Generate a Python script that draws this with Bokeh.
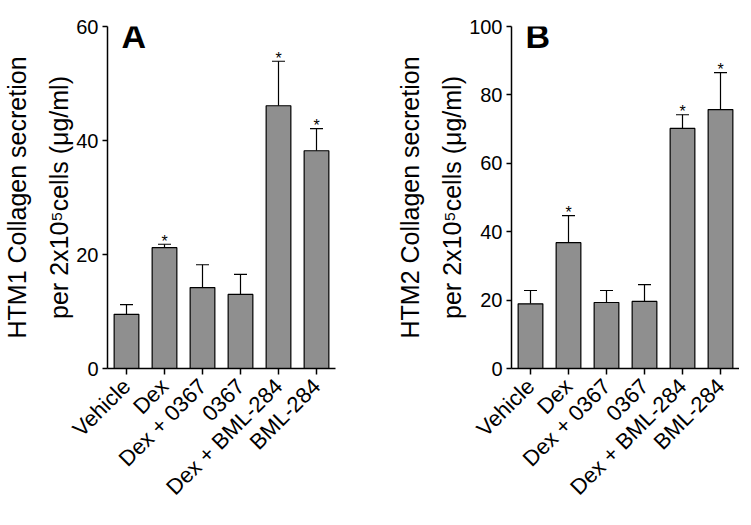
from math import pi
from bokeh.plotting import figure
from bokeh.models import ColumnDataSource, Whisker, TeeHead, Label, FactorRange, FixedTicker
from bokeh.layouts import row
from bokeh.embed import file_html
from bokeh.resources import INLINE
from bokeh.core.properties import value

cats = ["Vehicle", "Dex", "Dex + 0367", "0367", "Dex + BML-284", "BML-284"]
htm1_mean = [9.5, 21.2, 14.2, 13.0, 46.1, 38.2]
htm1_err = [1.7, 0.6, 4.0, 3.5, 7.8, 3.9]
htm1_sig = ["", "*", "", "", "*", "*"]
htm2_mean = [18.9, 36.8, 19.3, 19.6, 70.2, 75.7]
htm2_err = [3.9, 7.9, 3.5, 4.9, 4.0, 10.8]
htm2_sig = ["", "*", "", "", "*", "*"]
yticks1 = [0, 20, 40, 60]
yticks2 = [0, 20, 40, 60, 80, 100]

FONT = "Liberation Sans"


def panel(means, errs, sigs, ymax, yticks, letter, ylabel, border_left, border_right):
    src = ColumnDataSource(dict(
        x=cats, top=means,
        upper=[m + e for m, e in zip(means, errs)],
        sig=sigs,
    ))
    p = figure(x_range=FactorRange(*cats), y_range=(0, ymax),
               frame_width=228, frame_height=342,
               min_border_left=border_left, min_border_right=border_right,
               min_border_top=26, min_border_bottom=141,
               output_backend="svg", toolbar_location=None)
    p.outline_line_color = None
    p.xgrid.grid_line_color = None
    p.ygrid.grid_line_color = None
    p.background_fill_color = "white"

    p.vbar(x="x", top="top", width=0.65, bottom=0, source=src,
           fill_color="#8f8f8f", line_color="black", line_width=1.2)
    w = Whisker(base="x", lower="top", upper="upper", source=src,
                line_color="black", line_width=1.2,
                lower_head=None,
                upper_head=TeeHead(size=13, line_color="black", line_width=1.2))
    p.add_layout(w)
    p.text(x="x", y="upper", text="sig", source=src,
           text_font=value(FONT), text_font_size="16px",
           text_align="center", text_baseline="alphabetic", y_offset=-3)

    for ax in (p.xaxis[0], p.yaxis[0]):
        ax.axis_line_width = 1.5
        ax.major_tick_line_width = 1.5
        ax.major_tick_in = 0
        ax.minor_tick_line_color = None
        ax.major_label_text_font = FONT
        ax.major_label_text_color = "black"
    p.yaxis.major_label_text_font_size = "20px"
    p.xaxis.major_label_text_font_size = "22px"
    p.yaxis.ticker = FixedTicker(ticks=yticks)
    p.yaxis.major_tick_out = 5
    p.yaxis.major_label_standoff = 4
    p.xaxis.major_tick_out = 6
    p.xaxis.major_label_orientation = pi / 4
    p.xaxis.major_label_standoff = 8

    p.yaxis.axis_label = ylabel
    p.yaxis.axis_label_text_font = FONT
    p.yaxis.axis_label_text_font_size = "25px"
    p.yaxis.axis_label_text_font_style = "normal"
    p.yaxis.axis_label_text_color = "black"
    p.yaxis.axis_label_text_line_height = 1.5
    p.yaxis.axis_label_standoff = 0

    p.add_layout(Label(x=14, y=333, x_units="screen", y_units="screen",
                       text=letter, text_font=FONT, text_font_size="34px",
                       text_color="black",
                       text_font_style="bold", text_baseline="alphabetic"))
    return p


pA = panel(htm1_mean, htm1_err, htm1_sig, 60, yticks1, "A",
           "HTM1 Collagen secretion\nper 2x10\u2075cells (\u03bcg/ml)", 102, 37)
pB = panel(htm2_mean, htm2_err, htm2_sig, 100, yticks2, "B",
           "HTM2 Collagen secretion\nper 2x10\u2075cells (\u03bcg/ml)", 139, 0)

layout = row(pA, pB)
open("out.html", "w").write(file_html(layout, INLINE))
